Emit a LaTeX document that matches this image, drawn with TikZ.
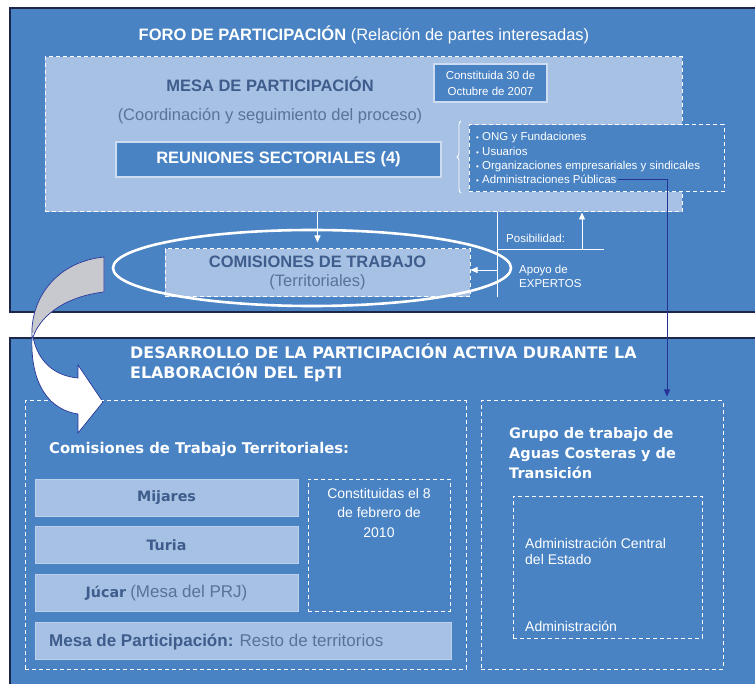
\documentclass[tikz,border=0pt]{standalone}
\usepackage{fontspec}
\setmainfont{Liberation Sans}
\newfontfamily\boxface{DejaVu Sans}
\usetikzlibrary{arrows.meta,fit,shapes.geometric,decorations.pathreplacing}

\definecolor{panelblue}{RGB}{73,131,196}
\definecolor{lightfill}{RGB}{166,193,227}
\definecolor{lightedge}{RGB}{190,209,236}
\definecolor{boxedge}{RGB}{205,220,240}
\definecolor{darktext}{RGB}{62,92,140}
\definecolor{softtext}{RGB}{88,114,154}
\definecolor{paneledge}{RGB}{28,38,72}
\definecolor{navyline}{RGB}{38,50,150}
\definecolor{backgrey}{RGB}{200,201,206}

\newcommand{\pxfont}[2]{\fontsize{#1}{#2}\selectfont}

\begin{document}
\begin{tikzpicture}[x=1pt, y=-1pt, >={Triangle[length=7pt,width=6pt]},
    panel/.style={fill=panelblue, draw=paneledge, line width=1.2pt, inner sep=0pt},
    dashbox/.style={draw=white, line width=1pt, dash pattern=on 4pt off 3pt, inner sep=0pt},
    darkbox/.style={fill=panelblue, draw=boxedge, line width=1.5pt, inner sep=0pt, text=white},
    lightbox/.style={fill=lightfill, draw=lightedge, line width=0.8pt, inner sep=0pt,
      minimum width=263pt, minimum height=37pt},
    wire/.style={draw=white, line width=0.8pt}]

		% page and panels
		\useasboundingbox (0,0) rectangle (755,684);
		\fill[white] (0,0) rectangle (755,684);
		\node [panel, fit={(10,8) (762,312)}] (foro) {};
		\node [panel, fit={(10,338) (762,692)}] (desarrollo) {};

		% foro heading
		\node [text=white, font=\pxfont{16.5}{19}] (foro-title) at (364,35)
			{\textbf{FORO DE PARTICIPACIÓN} (Relación de partes interesadas)};

		% mesa de participacion
		\node [dashbox, fill=lightfill, fit={(45,57) (682,212)}] (mesa) {};
		\node [text=darktext, font=\pxfont{16.5}{19}\bfseries] (mesa-title) at (270,84) {MESA DE PARTICIPACIÓN};
		\node [text=softtext, font=\pxfont{16.5}{19}] (mesa-sub) at (270,116) {(Coordinación y seguimiento del proceso)};
		\node [darkbox, minimum width=113pt, minimum height=38pt, align=center,
			font=\pxfont{11.5}{16}] (fecha2007) at (490.5,83) {Constituida 30 de\\Octubre de 2007};
		\node [darkbox, minimum width=325pt, minimum height=35pt,
			font=\pxfont{16.5}{19}\bfseries] (reuniones) at (278.5,159.5) {REUNIONES SECTORIALES (4)};

		% sectores
		\draw [wire, decorate, decoration={brace, amplitude=4pt}] (461,193) -- (461,121);
		\node [dashbox, fill=panelblue, fit={(469,125) (724,192)}] (sectores) {};
		\foreach \l [count=\i] in {ONG y Fundaciones, Usuarios,
				Organizaciones empresariales y sindicales, Administraciones Públicas}
			\node [anchor=base west, text=white, inner sep=1pt, font=\pxfont{11.5}{13}]
				(item-\i) at (475,141+14.3*\i-14.3) {{\pxfont{8}{9}\textbullet}\ \l};

		% comisiones de trabajo
		\node [dashbox, fill=lightfill, minimum width=305pt, minimum height=48pt, align=center,
			font=\pxfont{16.5}{19.5}] (comisiones) at (317.5,273)
			{\textcolor{darktext}{\textbf{COMISIONES DE TRABAJO}}\\\textcolor{softtext}{(Territoriales)}};
		\node [draw=white, line width=2.6pt, ellipse, minimum width=398pt, minimum height=76pt]
			(anillo) at (312,268) {};

		% mesa -> comisiones
		\draw [wire, ->, shorten >=6pt] (comisiones.north |- mesa.south) -- (comisiones.north);

		% posibilidad / apoyo de expertos
		\coordinate (split-top) at (497,212);
		\coordinate (split-bot) at (497,297);
		\coordinate (posib-left) at (497,249);
		\coordinate (posib-right) at (604,249);
		\coordinate (posib-foot) at (582,249);
		\coordinate (apoyo-start) at (497,270);
		\draw [wire] (split-top) -- (split-bot);
		\draw [wire] (posib-left) -- (posib-right);
		\draw [wire, ->] (posib-foot) -- (posib-foot |- mesa.south);
		\draw [wire, ->] (apoyo-start) -- (apoyo-start -| comisiones.east);
		\node [anchor=base west, text=white, inner sep=0pt, font=\pxfont{11.5}{13}] (posib) at (506,243) {Posibilidad:};
		\node [anchor=west, text=white, inner sep=0pt, align=left, font=\pxfont{11.5}{14}] (apoyo) at (519,276)
			{Apoyo de\\EXPERTOS};

		% bent arrow between panels
		\path [save path=\bentpath] (104,257) -- (104,292)
			.. controls (70,296) and (42,312) .. (33,337)
			.. controls (38,362) and (55,376) .. (78,378)
			-- (78,365) -- (103,402) -- (78,433) -- (78,414)
			.. controls (50,410) and (30,385) .. (32,337)
			.. controls (30,300) and (55,262) .. (104,257) -- cycle;
		\fill [white, use path=\bentpath];
		\begin{scope}
			\clip [use path=\bentpath];
			\fill [backgrey] (0,240) rectangle (120,333);
		\end{scope}
		\draw [navyline, line width=0.7pt, use path=\bentpath];

		% desarrollo heading
		\node [anchor=west, align=left, text=white, inner sep=0pt,
			font=\boxface\bfseries\pxfont{15.9}{19.5}] (desarrollo-title) at (130,363)
			{DESARROLLO DE LA PARTICIPACIÓN ACTIVA DURANTE LA\\ELABORACIÓN DEL EpTI};

		% comisiones territoriales
		\node [dashbox, fit={(25,401) (466,669)}] (territorios) {};
		\node [anchor=base west, text=white, inner sep=0pt, font=\boxface\bfseries\pxfont{14.8}{17}]
			(territorios-title) at (49,453) {Comisiones de Trabajo Territoriales:};
		\foreach \n/\l/\y in {mijares/{\boxface\bfseries Mijares}/498,
				turia/{\boxface\bfseries Turia}/545,
				jucar/{{\boxface\bfseries\pxfont{14.3}{17}Júcar} {\color{softtext}\pxfont{17}{20}(Mesa del PRJ)}}/593}
			\node [lightbox, text=darktext, font=\pxfont{14.3}{17}] (\n) at (166.5,\y) {\l};
		\node [dashbox, fit={(308,479) (450,611)}] (fecha2010) {};
		\node [anchor=north, align=center, text=white, inner sep=0pt, font=\pxfont{14}{19.5}]
			(fecha2010-text) at (fecha2010.north |- 0,488) {Constituidas el 8\\de febrero de\\2010};
		\node [lightbox, fit={(35,622) (451,659)}] (resto) {};
		\node [anchor=base west, inner sep=0pt, font=\pxfont{17}{20}] (resto-text) at (49,646)
			{\textcolor{darktext}{\textbf{Mesa de Participación:}} \textcolor{softtext}{Resto de territorios}};

		% grupo de aguas costeras
		\node [dashbox, fit={(481,401) (723,669)}] (grupo) {};
		\node [anchor=west, align=left, text=white, inner sep=0pt,
			font=\boxface\bfseries\pxfont{14.5}{20}] (grupo-title) at (509,453)
			{Grupo de trabajo de\\Aguas Costeras y de\\Transición};
		\node [dashbox, fit={(513,496) (702,638)}] (admins) {};
		\node [anchor=west, align=left, text=white, inner sep=0pt, font=\pxfont{14}{16}]
			(admin-central) at (525,551) {Administración Central\\del Estado};
		\node [anchor=base west, text=white, inner sep=0pt, font=\pxfont{14}{16}]
			(admin-other) at (525,631) {Administración};

		% administraciones publicas -> grupo
		\coordinate (navy-turn) at (667,180);
		\draw [navyline, line width=1pt, ->, shorten >=4pt] (item-4.east |- navy-turn) -- (navy-turn)
			-- (navy-turn |- grupo.north);

\end{tikzpicture}
\end{document}
